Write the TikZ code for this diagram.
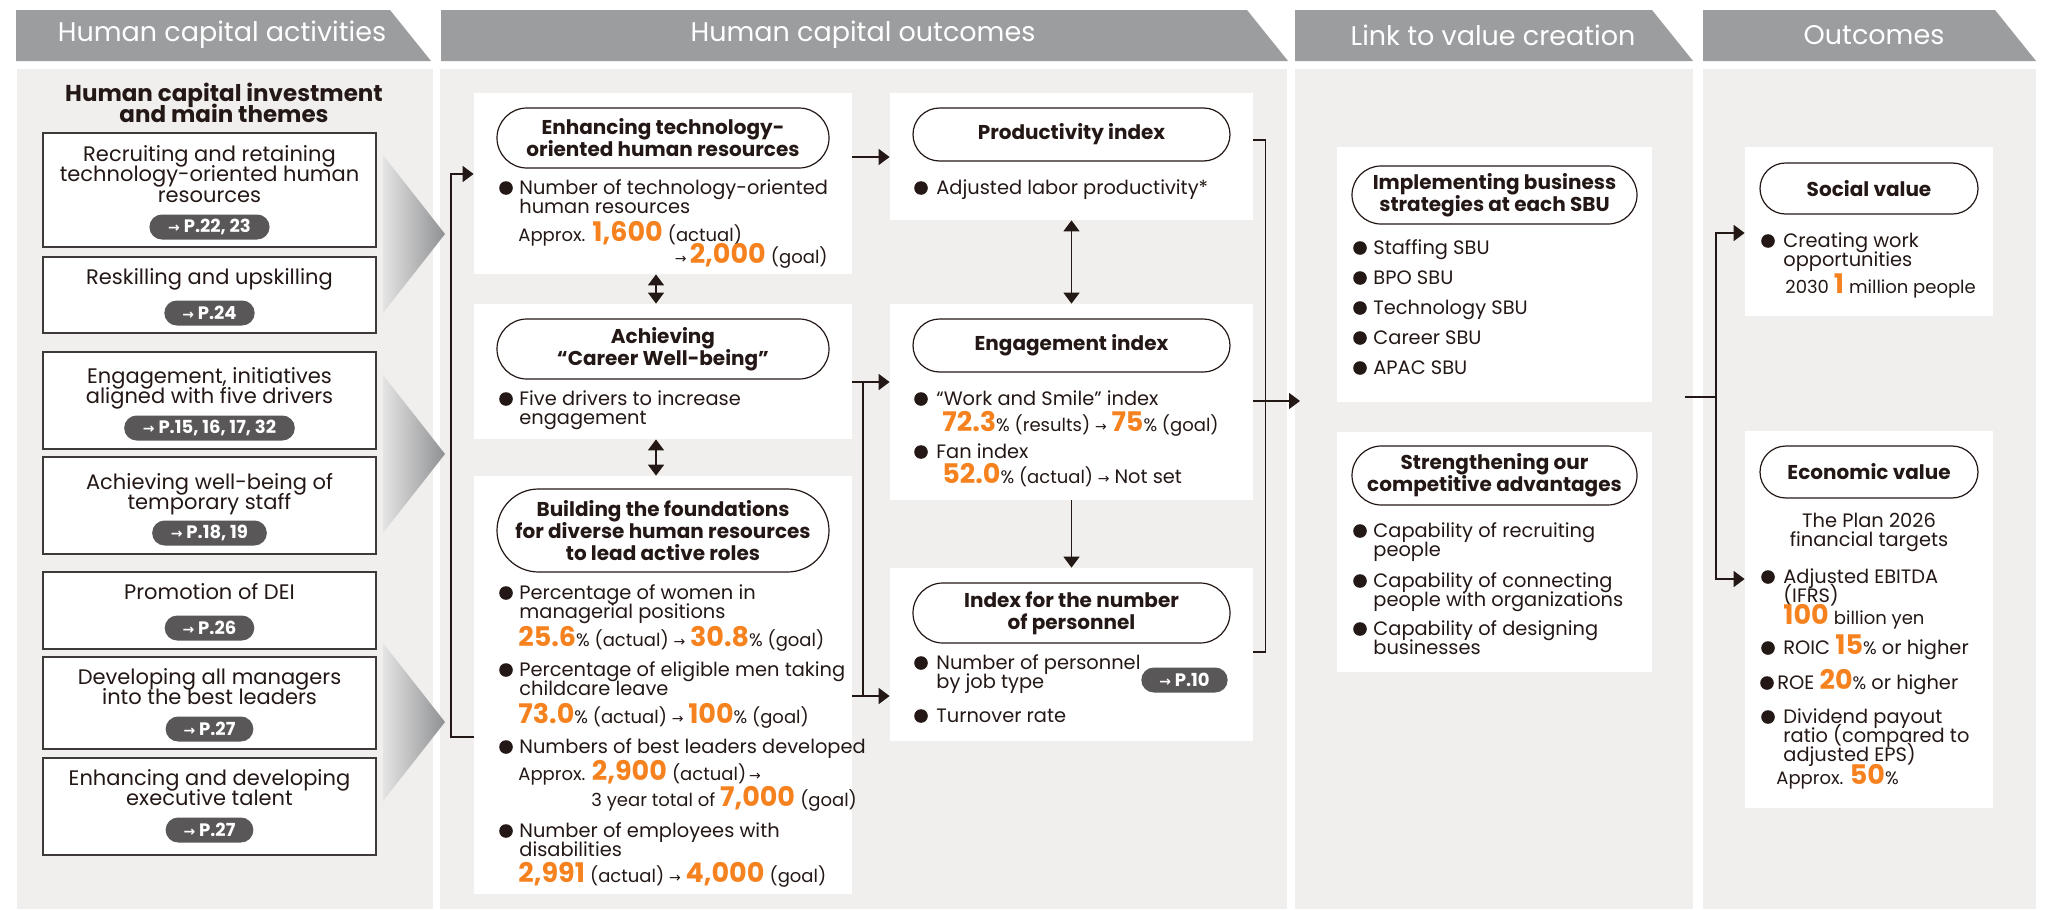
\documentclass[tikz,border=0pt]{standalone}
\usepackage{fontspec}
\setmainfont{Poppins}
\newfontfamily\symfont{DejaVu Sans}
\usetikzlibrary{arrows.meta,shapes.misc}
\definecolor{ink}{HTML}{231815}
\definecolor{headgray}{HTML}{9C9D9F}
\definecolor{panel}{HTML}{F0EFED}
\definecolor{taggray}{HTML}{595757}
\definecolor{rimgray}{HTML}{3E3A39}
\definecolor{orng}{HTML}{F5821F}
\definecolor{trilight}{HTML}{E4E4E4}
\definecolor{tridark}{HTML}{8F9092}
\newcommand\onum[1]{{\fontsize{13.5}{13.5}\selectfont\bfseries\color{orng}#1}}
\newcommand\smtxt[1]{{\fontsize{9}{9}\selectfont #1}}
\newcommand\rarr{{\symfont\fontsize{7}{7}\selectfont →}}
\newcommand\leftlines[1]{\vtop{\lineskiplimit=-20pt\lineskip=0pt\let\\\cr\halign{##\hfil\cr#1\crcr}}}
\newcommand\midlines[1]{\vtop{\lineskiplimit=-20pt\lineskip=0pt\let\\\cr\halign{\hfil##\hfil\cr#1\crcr}}}

\begin{document}
\begin{tikzpicture}[x=0.5pt,y=-0.5pt,>={Triangle[length=5.5pt,width=8pt]}]
\tikzstyle{headtxt}=[text=white,inner sep=0pt,font=\fontsize{13.5}{14}\selectfont]
\tikzstyle{actbox}=[draw=rimgray,fill=white,line width=0.8pt,minimum width=166.5pt,inner sep=0pt]
\tikzstyle{acttxt}=[anchor=base,inner sep=0pt,text=ink,font=\fontsize{10.5}{10.3}\selectfont]
\tikzstyle{tag}=[rounded rectangle,fill=taggray,text=white,font=\fontsize{9}{9}\selectfont\bfseries,minimum height=12.5pt,inner xsep=8pt,inner ysep=0pt]
\tikzstyle{wbox}=[fill=white,inner sep=0pt]
\tikzstyle{pill}=[rounded rectangle,draw=ink,line width=0.6pt,fill=white,inner sep=0pt,text=ink,font=\fontsize{10}{11}\selectfont\bfseries]
\tikzstyle{txt}=[anchor=base west,inner sep=0pt,text=ink,font=\fontsize{9.7}{9.5}\selectfont]
\tikzstyle{link}=[draw=ink,line width=0.9pt]

\fill[white] (0,0) rectangle (2045,910);
\useasboundingbox (0,0) rectangle (2045,910);
\foreach \a/\b in {17/433,440/1287,1295/1693,1703/2036}
  \fill[panel] (\a,69) rectangle (\b,909);
\foreach \a/\b/\c/\hd [count=\i] in {16/390/222/Human capital activities,441/1247/863/Human capital outcomes,1295/1652/1493/Link to value creation,1703/1995/1874/Outcomes}{
  \fill[headgray] (\a,10) -- (\b,10) -- ({\b+41},61) -- (\a,61) -- cycle;
  \node[headtxt] (head\i) at (\c,35) {\hd};
}
\foreach \y in {155,375,643}
  \shade[left color=trilight,right color=tridark] (383,\y) -- (445,{\y+79}) -- (383,{\y+158}) -- cycle;

\node[inner sep=0pt,text=ink,font=\fontsize{11.5}{10.5}\selectfont\bfseries] (title) at (224,103) {\midlines{Human capital investment\\and main themes}};
\foreach \n/\cy/\h/\ty/\txt/\py/\pg in {
  1/190/57/161/{Recruiting and retaining\\technology-oriented human\\resources}/227/{P.22, 23},
  2/295/38/284/{Reskilling and upskilling}/313/{P.24},
  3/400.5/48.5/383/{Engagement, initiatives\\aligned with five drivers}/428/{P.15, 16, 17, 32},
  4/505.5/48.5/489/{Achieving well-being of\\temporary staff}/533/{P.18, 19},
  5/610.5/38.5/599/{Promotion of DEI}/628/{P.26},
  6/703/46/684/{Developing all managers\\into the best leaders}/729/{P.27},
  7/806.5/48.5/785/{Enhancing and developing\\executive talent}/830/{P.27}}{
  \node[actbox,minimum height=\h pt] (act\n) at (209.5,\cy) {};
  \node[acttxt] (actt\n) at (209.5,\ty) {\midlines{\txt}};
  \node[tag] (tag\n) at (209.5,\py) {\rarr\ \pg};
}

\node[wbox,minimum width=189pt,minimum height=90.5pt] (boxA) at (663,183.5) {};
\node[wbox,minimum width=189pt,minimum height=67.5pt] (boxB) at (663,371.5) {};
\node[wbox,minimum width=189pt,minimum height=209pt] (boxC) at (663,685) {};
\node[wbox,minimum width=181.5pt,minimum height=63.5pt] (boxD) at (1071.5,156.5) {};
\node[wbox,minimum width=181.5pt,minimum height=98pt] (boxE) at (1071.5,402) {};
\node[wbox,minimum width=181.5pt,minimum height=86.5pt] (boxF) at (1071.5,654.5) {};
\node[wbox,minimum width=157.5pt,minimum height=127.5pt] (boxG) at (1494.5,274.5) {};
\node[wbox,minimum width=157.5pt,minimum height=120pt] (boxH) at (1494.5,552) {};
\node[wbox,minimum width=124pt,minimum height=84.5pt] (boxI) at (1869,231.5) {};
\node[wbox,minimum width=124pt,minimum height=188.5pt] (boxJ) at (1869,619.5) {};

\node[pill,minimum width=166pt,minimum height=30pt] (pA) at (663,138) {\midlines{Enhancing technology-\\oriented human resources}};
\node[pill,minimum width=166pt,minimum height=30pt] (pB) at (663,349) {\midlines{Achieving\\“Career Well-being”}};
\node[pill,minimum width=166pt,minimum height=41.5pt] (pC) at (663,530.5) {\midlines{Building the foundations\\for diverse human resources\\to lead active roles}};
\node[pill,minimum width=158.5pt,minimum height=26.5pt] (pD) at (1071.5,134.5) {Productivity index};
\node[pill,minimum width=158.5pt,minimum height=26.5pt] (pE) at (1071.5,345.5) {Engagement index};
\node[pill,minimum width=158.5pt,minimum height=30pt] (pF) at (1071.5,613) {\midlines{Index for the number\\of personnel}};
\node[pill,minimum width=142.5pt,minimum height=29pt] (pG) at (1494.5,195) {\midlines{Implementing business\\strategies at each SBU}};
\node[pill,minimum width=142.5pt,minimum height=29.5pt] (pH) at (1494.5,475.5) {\midlines{Strengthening our\\competitive advantages}};
\node[pill,minimum width=109pt,minimum height=25.5pt] (pI) at (1869,188.5) {Social value};
\node[pill,minimum width=109pt,minimum height=26pt] (pJ) at (1869,472) {Economic value};

\foreach \x/\y in {506/188,506/399,506/593,506/670,506/747,506/831,921/188,921/399,921/452,921/663,921/716,
  1360/248,1360/278,1360/308,1360/338,1360/368,1360/531,1360/581,1360/629,1768/241,1768/577,1768/648,1767/683,1768/717}
  \fill[ink] (\x,\y) circle (3.4pt);

\node[txt] (tA1) at (519,194) {\leftlines{Number of technology-oriented\\human resources}};
\node[txt] (tA2) at (518,241) {\smtxt{Approx.} \onum{1,600} \smtxt{(actual)}};
\node[txt,anchor=base east] (tA3) at (828,263) {\rarr\,\onum{2,000} \smtxt{(goal)}};
\node[txt] (tB1) at (519,405) {\leftlines{Five drivers to increase\\engagement}};
\node[txt] (tC1) at (519,599) {\leftlines{Percentage of women in\\managerial positions}};
\node[txt] (tC2) at (518,646) {\onum{25.6}\smtxt{\% (actual) \rarr\ }\onum{30.8}\smtxt{\% (goal)}};
\node[txt] (tC3) at (519,676) {\leftlines{Percentage of eligible men taking\\childcare leave}};
\node[txt] (tC4) at (518,723) {\onum{73.0}\smtxt{\% (actual) \rarr\ }\onum{100}\smtxt{\% (goal)}};
\node[txt] (tC5) at (519,753) {Numbers of best leaders developed};
\node[txt] (tC6) at (518,780) {\smtxt{Approx. }\onum{2,900} \smtxt{(actual)\,\rarr}};
\node[txt] (tC7) at (591,806) {\smtxt{3 year total of }\onum{7,000} \smtxt{(goal)}};
\node[txt] (tC8) at (519,837) {\leftlines{Number of employees with\\disabilities}};
\node[txt] (tC9) at (518,882) {\onum{2,991} \smtxt{(actual) \rarr\ }\onum{4,000} \smtxt{(goal)}};

\node[txt] (tD1) at (936,194) {Adjusted labor productivity*};
\node[txt] (tE1) at (936,405) {“Work and Smile” index};
\node[txt] (tE2) at (942,431) {\onum{72.3}\smtxt{\% (results) \rarr\ }\onum{75}\smtxt{\% (goal)}};
\node[txt] (tE3) at (936,458) {Fan index};
\node[txt] (tE4) at (942,483) {\onum{52.0}\smtxt{\% (actual) \rarr\ }Not set};
\node[txt] (tF1) at (936,669) {\leftlines{Number of personnel\\by job type}};
\node[tag] (tgF) at (1184.5,680) {\rarr\ P.10};
\node[txt] (tF2) at (936,722) {Turnover rate};

\foreach \y/\s [count=\i] in {254/Staffing SBU,284/BPO SBU,314/Technology SBU,344/Career SBU,374/APAC SBU}
  \node[txt] (tG\i) at (1373,\y) {\s};
\node[txt] (tH1) at (1373,537) {\leftlines{Capability of recruiting\\people}};
\node[txt] (tH2) at (1373,587) {\leftlines{Capability of connecting\\people with organizations}};
\node[txt] (tH3) at (1373,635) {\leftlines{Capability of designing\\businesses}};

\node[txt] (tI1) at (1783,247) {\leftlines{Creating work\\opportunities}};
\node[txt] (tI2) at (1785,293) {\smtxt{2030 }\onum{1} \smtxt{million people}};
\node[txt,anchor=center] (tJ0) at (1869,532) {\midlines{The Plan 2026\\financial targets}};
\node[txt] (tJ1) at (1783,583) {\leftlines{Adjusted EBITDA\\(IFRS)}};
\node[txt] (tJ2) at (1783,624) {\onum{100} \smtxt{billion yen}};
\node[txt] (tJ3) at (1783,654) {ROIC \onum{15}\smtxt{\%} or higher};
\node[txt] (tJ4) at (1777,689) {ROE \onum{20}\smtxt{\%} or higher};
\node[txt] (tJ5) at (1783,723) {\leftlines{Dividend payout\\ratio (compared to\\adjusted EPS)}};
\node[txt] (tJ6) at (1776,784) {\smtxt{Approx. }\onum{50}\smtxt{\%}};

\draw[link,->] (boxC.west |- 0,737) -- ++(-23,0) |- (boxA.west |- 0,174);
\draw[link,<->] (boxA.south -| 656,0) -- (boxB.north -| 656,0);
\draw[link,<->] (boxB.south -| 656,0) -- (boxC.north -| 656,0);
\draw[link,->] (boxA.east |- 0,157) -- (boxD.west |- 0,157);
\draw[link,<->] (boxD.south) -- (boxE.north);
\draw[link,->] (boxE.south) -- (boxF.north);
\draw[link,->] (boxB.east |- 0,382) -- (boxE.west |- 0,382);
\draw[link,->] (boxC.east |- 0,696) -- (boxF.west |- 0,696);
\coordinate (jL1) at (863,382);
\coordinate (jL2) at (863,696);
\draw[link] (jL1) -- (jL2);
\draw[link] (boxD.east |- 0,140) -- ++(12,0) |- (boxF.east |- 0,652);
\coordinate (col3in) at (1300,401);
\draw[link,->] (boxE.east |- 0,401) -- (col3in);
\coordinate (col3out) at (1685,397);
\coordinate (jR) at (1716,397);
\draw[link] (col3out) -- (jR);
\draw[link,->] (jR) |- (boxI.west |- 0,233);
\draw[link,->] (jR) |- (boxJ.west |- 0,579);
\end{tikzpicture}
\end{document}
